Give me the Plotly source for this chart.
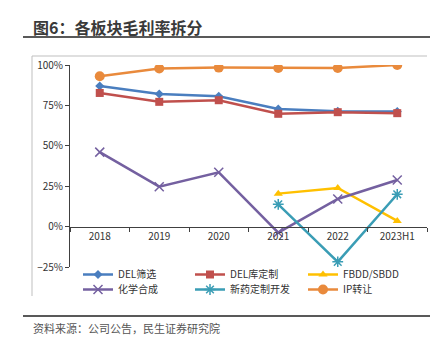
import plotly.graph_objects as go

categories = ["2018", "2019", "2020", "2021", "2022", "2023H1"]
del_screen = [0.870, 0.821, 0.807, 0.728, 0.714, 0.712]
del_custom = [0.827, 0.772, 0.782, 0.698, 0.708, 0.702]
fbdd_sbdd = [None, None, None, 0.204, 0.239, 0.035]
chem_syn = [0.461, 0.247, 0.336, -0.037, 0.171, 0.288]
new_drug = [None, None, None, 0.138, -0.218, 0.200]
ip_transfer = [0.930, 0.978, 0.984, 0.981, 0.981, 1.000]

series = [
    ("DEL筛选", del_screen, "#4A7EBF", "diamond", 7),
    ("DEL库定制", del_custom, "#C0504D", "square", 8),
    ("FBDD/SBDD", fbdd_sbdd, "#FFC000", "triangle-up", 8),
    ("化学合成", chem_syn, "#7460A0", "x-thin-open", 9),
    ("新药定制开发", new_drug, "#3A9DB5", "asterisk-open", 9),
    ("IP转让", ip_transfer, "#E98A3C", "circle", 10),
]

W, H = 437, 350
L, R, T, B = 70, 10, 65, 83
PW, PH = W - L - R, H - T - B


def px(x):
    return (x - L) / PW


def py(y):
    return (H - B - y) / PH


legend_names = ["legend", "legend2", "legend3", "legend4", "legend5", "legend6"]
col_x = [78, 190, 303]
row_y = [260, 275]

fig = go.Figure()
for i, (name, vals, color, sym, size) in enumerate(series):
    mk = dict(symbol=sym, size=size, color=color)
    if "open" in sym:
        mk["line"] = dict(color=color, width=1.5)
    fig.add_trace(go.Scatter(
        x=categories, y=vals, name=name, mode="lines+markers",
        line=dict(color=color, width=2.5), marker=mk,
        connectgaps=False, xaxis="x", yaxis="y", legend=legend_names[i],
    ))

font_cjk = "Noto Sans CJK SC, Microsoft YaHei, sans-serif"

legends = {}
for i, ln in enumerate(legend_names):
    legends[ln] = dict(
        orientation="v", x=px(col_x[i % 3]), y=py(row_y[i // 3]),
        xanchor="left", yanchor="top",
        font=dict(size=10, color="#333333"), bgcolor="rgba(0,0,0,0)",
        itemclick=False, tracegroupgap=0, borderwidth=0,
    )

fig.update_layout(
    width=W, height=H,
    margin=dict(l=L, r=R, t=T, b=B, pad=0),
    paper_bgcolor="white", plot_bgcolor="white",
    font=dict(family=font_cjk, size=10, color="#333333"),
    showlegend=True,
    xaxis=dict(
        type="category", anchor="free", position=0.2,
        range=[-0.5, 5.5], showline=True, linecolor="#404040", linewidth=1,
        ticks="outside", tickson="boundaries", ticklen=4, tickcolor="#404040",
        showgrid=False, zeroline=False,
        tickfont=dict(size=10, color="#333333"),
    ),
    yaxis=dict(
        range=[-0.25, 1.0], dtick=0.25, tick0=0, tickformat=".0%",
        showline=True, linecolor="#404040", linewidth=1,
        ticks="outside", ticklen=4, tickcolor="#404040",
        showgrid=False, zeroline=False,
        tickfont=dict(size=10, color="#333333"),
    ),
    shapes=[
        dict(type="line", xref="paper", yref="paper", x0=px(23), x1=px(430),
             y0=py(37), y1=py(37), line=dict(color="#595959", width=2)),
        dict(type="line", xref="paper", yref="paper", x0=px(32), x1=px(427),
             y0=py(56), y1=py(56), line=dict(color="#BFBFBF", width=1)),
        dict(type="line", xref="paper", yref="paper", x0=px(32), x1=px(32),
             y0=py(56), y1=py(296), line=dict(color="#BFBFBF", width=1)),
        dict(type="line", xref="paper", yref="paper", x0=px(23), x1=px(430),
             y0=py(316), y1=py(316), line=dict(color="#595959", width=2)),
    ],
    annotations=[
        dict(text="<b>图6：各板块毛利率拆分</b>", xref="paper", yref="paper",
             x=px(31), y=py(27), xanchor="left", yanchor="middle",
             showarrow=False, font=dict(size=16, color="#3a3a3a", family=font_cjk)),
        dict(text="资料来源：公司公告，民生证券研究院", xref="paper", yref="paper",
             x=px(31), y=py(328), xanchor="left", yanchor="middle",
             showarrow=False, font=dict(size=11, color="#555555", family=font_cjk)),
    ],
    **legends,
)

fig.write_html("out.html")
